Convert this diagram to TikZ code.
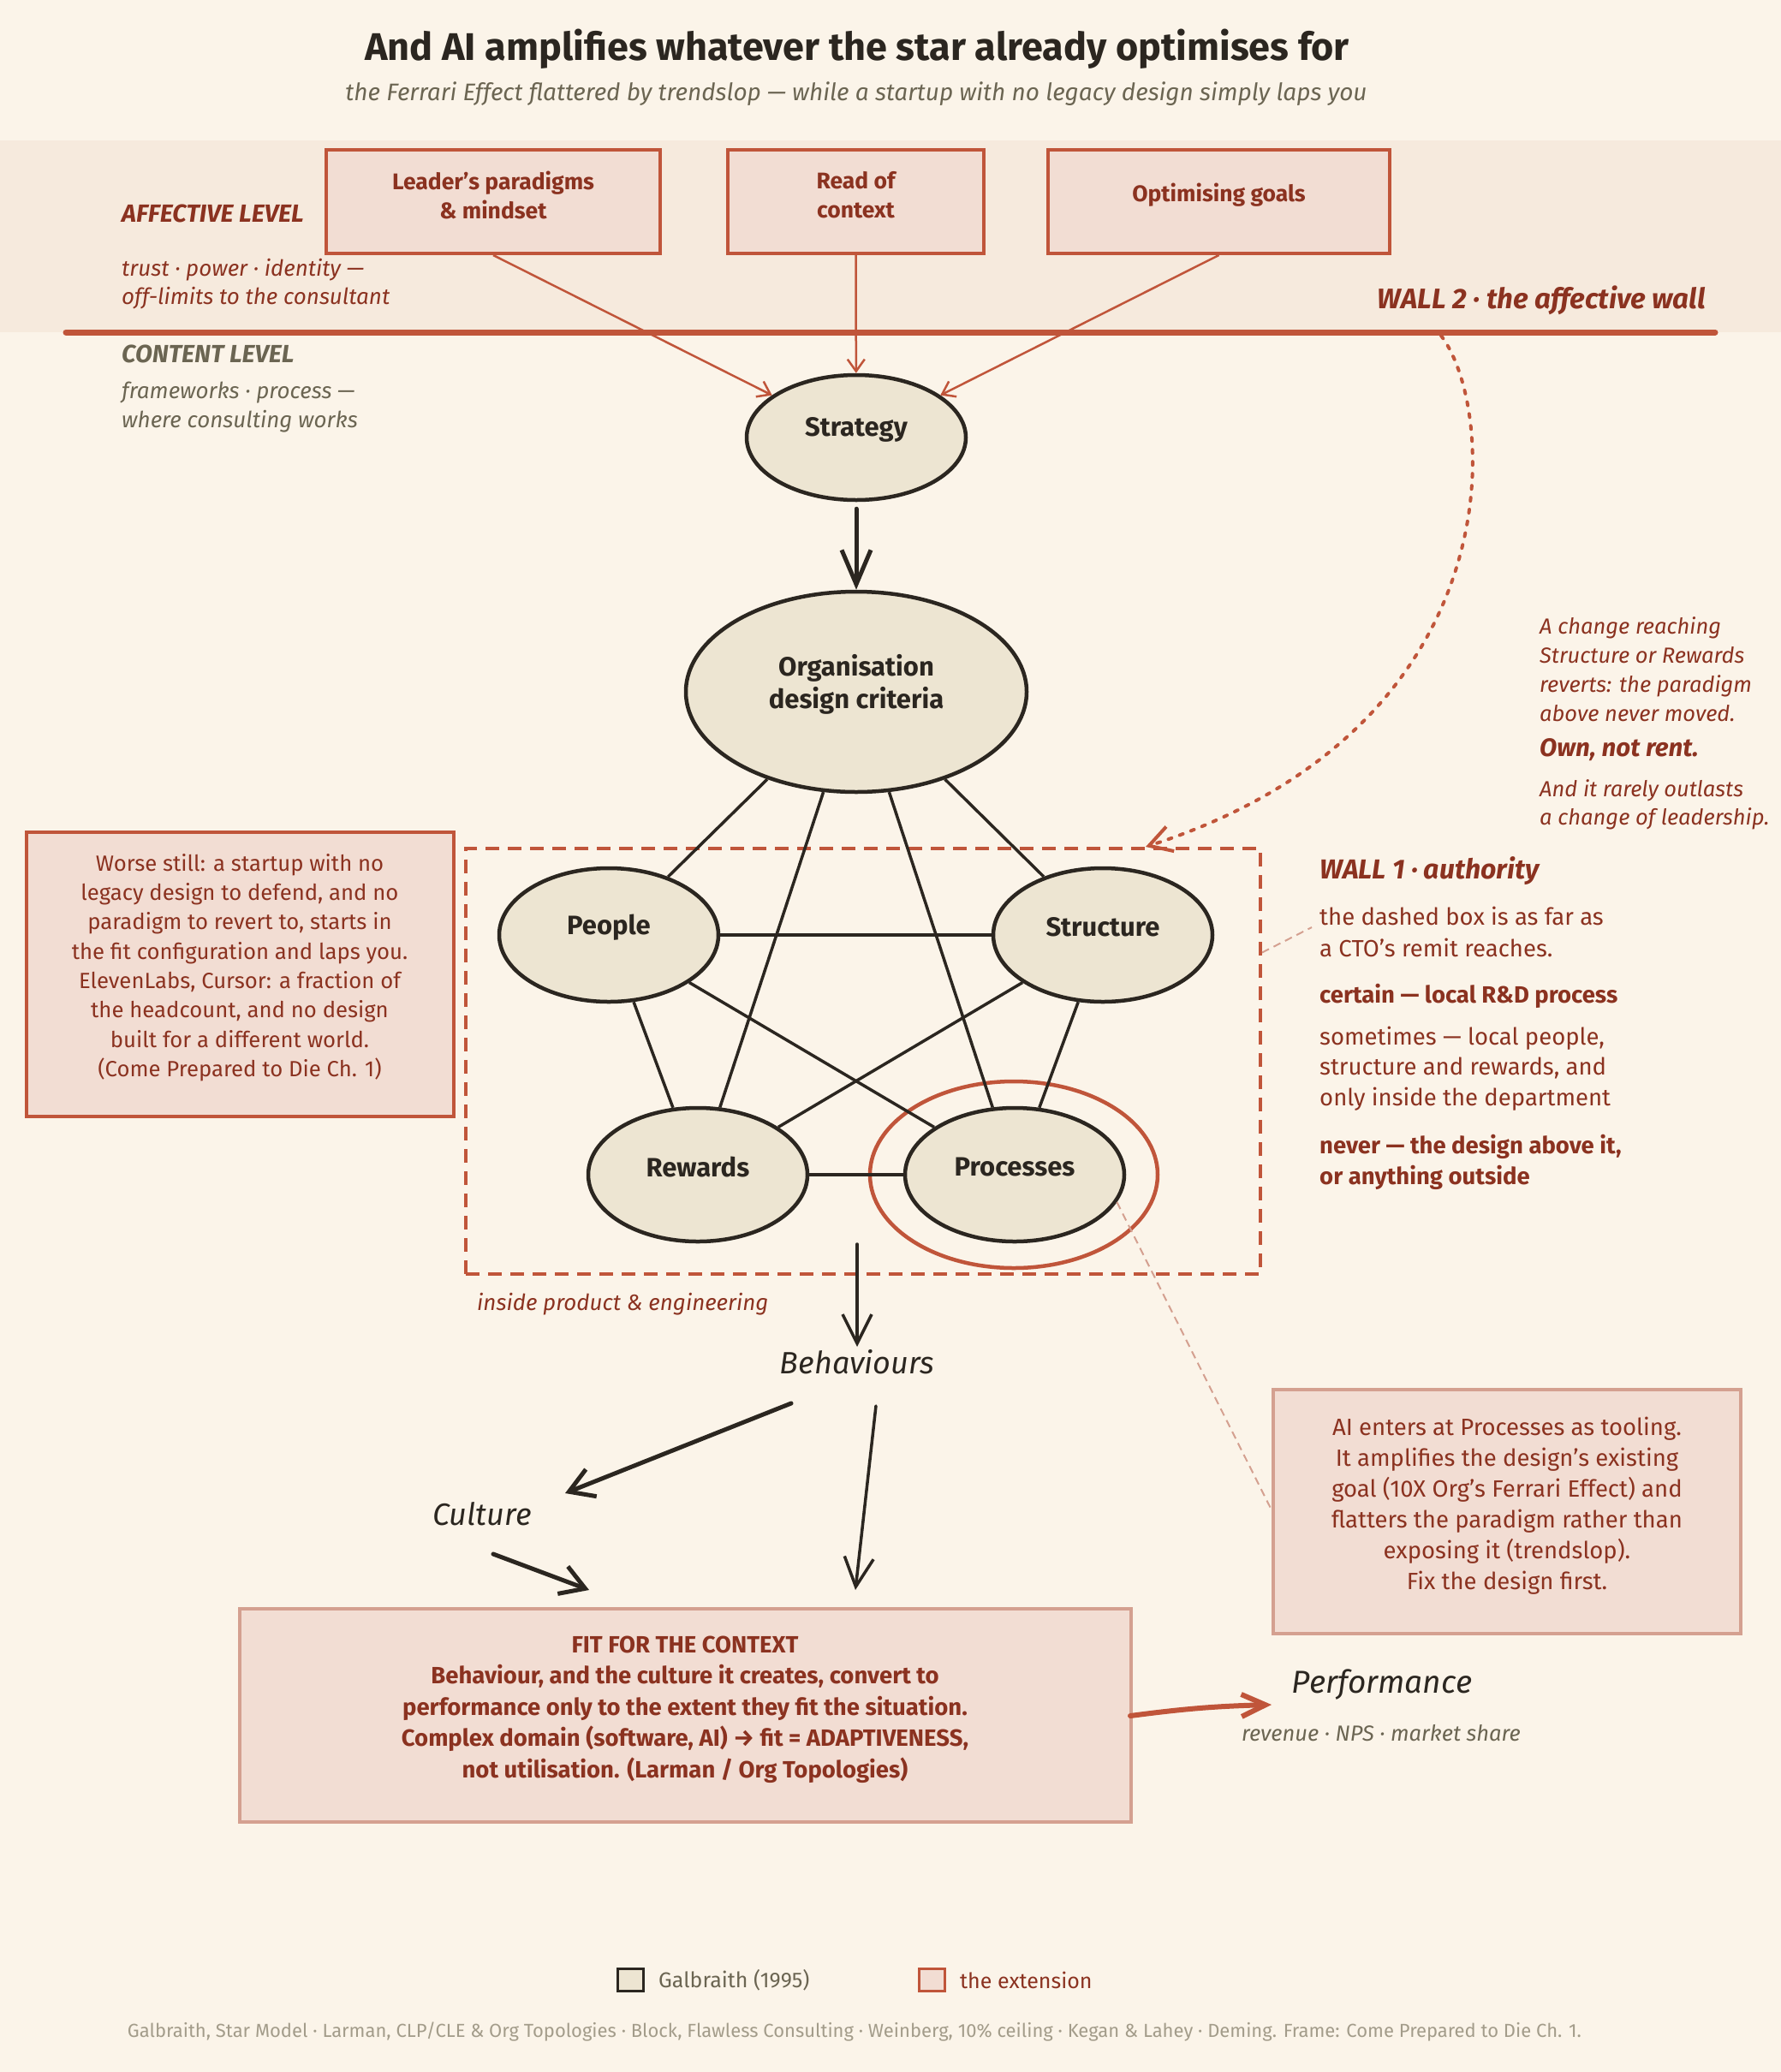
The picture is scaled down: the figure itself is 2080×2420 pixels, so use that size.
\documentclass[tikz,border=0pt]{standalone}
\usepackage{fontspec}
\setmainfont{Fira Sans}
\usetikzlibrary{arrows.meta,shapes.geometric,calc}
\definecolor{bgc}{HTML}{FBF4E9}
\definecolor{bandc}{HTML}{F6EADD}
\definecolor{redc}{HTML}{C0553A}
\definecolor{dred}{HTML}{8B3220}
\definecolor{boxf}{HTML}{F2DDD3}
\definecolor{mutec}{HTML}{D4A090}
\definecolor{ink}{HTML}{2B2620}
\definecolor{ellf}{HTML}{EDE5D2}
\definecolor{grayc}{HTML}{6B6552}
\definecolor{footc}{HTML}{A39C8A}
\newcommand\myfs[2]{\fontsize{#1}{#2}\selectfont}
\begin{document}
\begin{tikzpicture}[x=1pt,y=-1pt,
  extbox/.style={draw=redc,line width=4pt,fill=boxf,inner sep=0pt},
  mutebox/.style={draw=mutec,line width=4pt,fill=boxf,inner sep=0pt},
  galb/.style={ellipse,draw=ink,line width=4.5pt,fill=ellf,inner sep=0pt},
  ellabel/.style={label={[yshift=9pt,text=ink,font=\bfseries\myfs{31}{38},align=center]center:#1}},
  toplabel/.style={label={[yshift=8pt,text=dred,font=\bfseries\myfs{26.5}{34},align=center]center:#1}},
  staredge/.style={draw=ink,line width=3.5pt},
  redarrow/.style={draw=redc,line width=2.5pt,-{Straight Barb[length=14pt,width=20pt]}},
  bigarrow/.style={draw=ink,line width=5pt,line cap=round,-{Straight Barb[length=40pt,width=34pt]}},
  midarrow/.style={draw=ink,line width=5pt,line cap=round,-{Straight Barb[length=28pt,width=34pt]}},
  thinarrow/.style={draw=ink,line width=3.5pt,line cap=round,-{Straight Barb[length=34pt,width=34pt]}},
  leader/.style={draw=mutec,line width=2pt,dash pattern=on 9pt off 6pt},
  note/.style={align=left,anchor=west,inner sep=0pt}]
\useasboundingbox (0,0) rectangle (2080,2420);
\fill[bgc] (0,0) rectangle (2080,2420);
\fill[bandc] (0,164) rectangle (2080,388);

% title
\node[font=\bfseries\myfs{45}{52},text=ink] (title) at (1001,57) {And AI amplifies whatever the star already optimises for};
\node[font=\itshape\myfs{28}{32},text=grayc] (subtitle) at (1000,110) {the Ferrari Effect flattered by trendslop — while a startup with no legacy design simply laps you};

% wall 2
\coordinate (wallL) at (77,388);
\coordinate (wallR) at (2003,388);
\draw[redc,line width=7pt,line cap=round] (wallL) -- (wallR);

% left level labels
\node[note,text=dred,font=\bfseries\itshape\myfs{29}{32}] (afflab) at (142,249) {AFFECTIVE LEVEL};
\node[note,text=dred,font=\itshape\myfs{26}{33}] (afftxt) at (142,331.5) {trust · power · identity —\\off-limits to the consultant};
\node[note,text=grayc,font=\bfseries\itshape\myfs{29}{32}] (conlab) at (142,413) {CONTENT LEVEL};
\node[note,text=grayc,font=\itshape\myfs{26}{34}] (contxt) at (142,476) {frameworks · process —\\where consulting works};

% top boxes
\node[extbox,minimum width=390pt,minimum height=121pt,toplabel={Leader's paradigms\\\& mindset}] (lead) at (576,235.5) {};
\node[extbox,minimum width=299pt,minimum height=121pt,toplabel={Read of\\context}] (read) at (999.5,235.5) {};
\node[extbox,minimum width=399pt,minimum height=121pt,toplabel={Optimising goals}] (goals) at (1423.5,235.5) {};

% wall 2 label
\node[text=dred,anchor=east,inner sep=0pt,font=\bfseries\itshape\myfs{33}{36}] (w2lab) at (1992,351) {WALL 2 · the affective wall};

% star model
\node[galb,minimum width=256pt,minimum height=146pt,ellabel={Strategy}] (strat) at (1000,511) {};
\node[galb,minimum width=398pt,minimum height=234pt,ellabel={Organisation\\design criteria}] (org) at (1000,808) {};
\node[draw=redc,line width=4pt,dash pattern=on 16pt off 10pt,minimum width=928pt,minimum height=497pt,inner sep=0pt] (remit) at (1008,1239.5) {};
\node[ellipse,draw=redc,line width=4.5pt,minimum width=336pt,minimum height=218pt,inner sep=0pt] (ring) at (1184,1372) {};
\node[galb,minimum width=256pt,minimum height=156pt,ellabel={People}] (people) at (711,1092) {};
\node[galb,minimum width=256pt,minimum height=156pt,ellabel={Structure}] (struct) at (1288,1092) {};
\node[galb,minimum width=256pt,minimum height=156pt,ellabel={Rewards}] (rew) at (815,1372) {};
\node[galb,minimum width=256pt,minimum height=156pt,ellabel={Processes}] (proc) at (1185,1372) {};

\draw[redarrow] (lead.south) -- (strat);
\draw[redarrow] (read.south) -- (strat);
\draw[redarrow] (goals.south) -- (strat);
\draw[bigarrow,shorten <=8pt] (strat) -- (org);

\draw[staredge] (org) -- (people);
\draw[staredge] (org) -- (struct);
\draw[staredge] (org) -- (rew);
\draw[staredge] (org) -- (proc);
\draw[staredge] (people) -- (struct);
\draw[staredge] (people) -- (rew);
\draw[staredge] (people) -- (proc);
\draw[staredge] (struct) -- (rew);
\draw[staredge] (struct) -- (proc);
\draw[staredge] (rew) -- (proc);

\node[note,text=dred,font=\itshape\myfs{26}{30}] (inside) at (557,1523) {inside product \& engineering};

% dotted arrow from wall 2
\coordinate (w2) at (1683,392);
\draw[redc,line width=4pt,line cap=round,dash pattern=on 4pt off 10pt,-{Straight Barb[length=26pt,width=30pt]}] (w2) .. controls (1750,480) and (1770,850) .. ([shift={(330,0)}]remit.north);

% right note
\node[note,text=dred,font=\itshape\myfs{25.5}{34}] (change) at (1798,782) {A change reaching\\Structure or Rewards\\reverts: the paradigm\\above never moved.};
\node[note,text=dred,font=\bfseries\itshape\myfs{29.5}{32}] (own) at (1798,876) {Own, not rent.};
\node[note,text=dred,font=\itshape\myfs{25.5}{33}] (outlast) at (1798,939.5) {And it rarely outlasts\\a change of leadership.};

% wall 1
\node[note,text=dred,font=\bfseries\itshape\myfs{32}{36}] (w1lab) at (1541,1017) {WALL 1 · authority};
\node[note,text=dred,font=\myfs{27.5}{37}] (w1a) at (1541,1088.5) {the dashed box is as far as\\a CTO's remit reaches.};
\node[note,text=dred,font=\bfseries\myfs{27.5}{36}] (w1b) at (1541,1163) {certain — local R\&D process};
\node[note,text=dred,font=\myfs{27.5}{35.5}] (w1c) at (1541,1248) {sometimes — local people,\\structure and rewards, and\\only inside the department};
\node[note,text=dred,font=\bfseries\myfs{27.5}{36}] (w1d) at (1541,1357) {never — the design above it,\\or anything outside};
\coordinate (w1end) at (1532,1083);
\draw[leader] ([shift={(0,-127)}]remit.east) -- (w1end);

% worse still box
\node[extbox,minimum width=499pt,minimum height=332pt,label={[yshift=8pt,text=dred,font=\myfs{25.7}{34.3},align=center]center:{Worse still: a startup with no\\legacy design to defend, and no\\paradigm to revert to, starts in\\the fit configuration and laps you.\\ElevenLabs, Cursor: a fraction of\\the headcount, and no design\\built for a different world.\\(Come Prepared to Die Ch. 1)}}] (worse) at (280,1138) {};

% AI box
\node[mutebox,minimum width=546pt,minimum height=285pt,label={[yshift=7pt,text=dred,font=\myfs{27.5}{36},align=center]center:{AI enters at Processes as tooling.\\It amplifies the design's existing\\goal (10X Org's Ferrari Effect) and\\flatters the paradigm rather than\\exposing it (trendslop).\\Fix the design first.}}] (aibox) at (1760,1765.5) {};
\draw[leader] (proc.-15) -- ([shift={(0,-2)}]aibox.west);

% behaviours chain
\node[font=\itshape\myfs{36}{40},text=ink,inner sep=0pt] (behav) at (1001,1591) {Behaviours};
\node[font=\itshape\myfs{36}{40},text=ink,inner sep=0pt] (culture) at (563,1768) {Culture};
\node[mutebox,minimum width=1041pt,minimum height=249pt,label={[yshift=7pt,text=dred,font=\bfseries\myfs{27.5}{36.5},align=center]center:{FIT FOR THE CONTEXT\\Behaviour, and the culture it creates, convert to\\performance only to the extent they fit the situation.\\Complex domain (software, AI) → fit = ADAPTIVENESS,\\not utilisation. (Larman / Org Topologies)}}] (fit) at (800,2003.5) {};
\node[font=\itshape\myfs{37}{42},text=ink,inner sep=0pt] (perf) at (1614,1968) {Performance};
\node[font=\itshape\myfs{25.5}{28},text=grayc,inner sep=0pt] (perfsub) at (1613,2024) {revenue · NPS · market share};

\draw[thinarrow] ([shift={(-7,213.5)}]remit.center) -- ([shift={(0,-18)}]behav.center);
\draw[midarrow] ([shift={(-77,48)}]behav.center) -- ([shift={(97,-24)}]culture.center);
\draw[thinarrow] ([shift={(22,51)}]behav.center) -- ([shift={(199,-146.5)}]fit.center);
\draw[midarrow] ([shift={(13,47)}]culture.center) -- ([shift={(-112,-146.5)}]fit.center);
\draw[redc,line width=6pt,line cap=round,-{Straight Barb[length=28pt,width=26pt]}] ([shift={(520,0.5)}]fit.center) to[bend left=3] ([shift={(-129,23)}]perf.center);

% legend
\node[draw=ink,fill=ellf,line width=3pt,minimum width=30pt,minimum height=26pt,inner sep=0pt] (lg1) at (736,2312) {};
\node[note,text=grayc,font=\myfs{25}{28}] (lg1t) at (769,2313) {Galbraith (1995)};
\node[draw=redc,fill=boxf,line width=3pt,minimum width=30pt,minimum height=26pt,inner sep=0pt] (lg2) at (1088,2312) {};
\node[note,text=dred,font=\myfs{25}{28}] (lg2t) at (1121,2313) {the extension};
\node[text=footc,font=\myfs{22}{26}] (foot) at (998,2373) {Galbraith, Star Model · Larman, CLP/CLE \& Org Topologies · Block, Flawless Consulting · Weinberg, 10\% ceiling · Kegan \& Lahey · Deming. Frame: Come Prepared to Die Ch. 1.};
\end{tikzpicture}
\end{document}
